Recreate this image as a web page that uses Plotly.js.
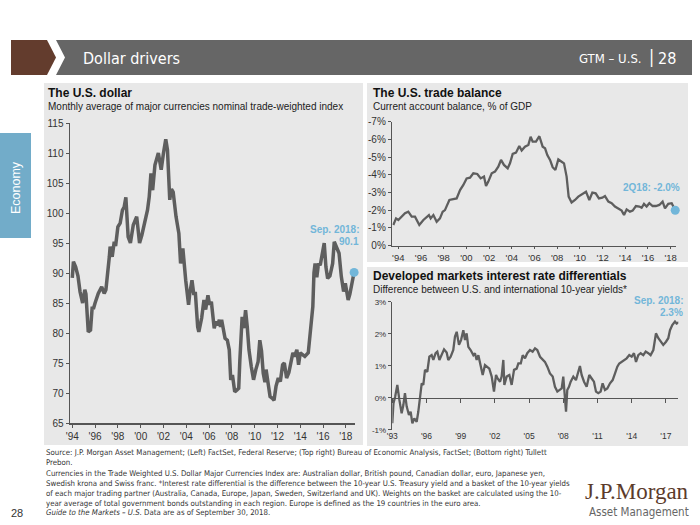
<!DOCTYPE html>
<html><head><meta charset="utf-8">
<script src="https://cdn.plot.ly/plotly-3.0.1.min.js"></script>
<style>html,body{margin:0;padding:0;background:#fff;}#chart{width:700px;height:525px;}</style>
</head><body><div id="chart"></div>
<script>
// ---------- DATA ----------
const dollarYears = [1994.0,1994.1,1994.3,1994.5,1994.68,1994.8,1994.91,1995.1,1995.2,1995.4,1995.6,1995.75,1995.85,1996.0,1996.28,1996.58,1996.8,1996.95,1997.16,1997.25,1997.32,1997.5,1997.68,1997.8,1998.0,1998.2,1998.4,1998.55,1998.7,1998.9,1999.1,1999.35,1999.65,1999.9,2000.1,2000.4,2000.6,2000.75,2000.9,2001.05,2001.25,2001.55,2001.8,2002.0,2002.2,2002.35,2002.55,2002.7,2002.85,2003.1,2003.35,2003.5,2003.7,2003.95,2004.2,2004.3,2004.5,2004.65,2004.8,2005.0,2005.1,2005.35,2005.55,2005.7,2005.9,2006.05,2006.2,2006.45,2006.6,2006.75,2006.9,2007.0,2007.1,2007.4,2007.6,2007.77,2007.9,2008.05,2008.25,2008.45,2008.6,2008.7,2008.9,2009.05,2009.2,2009.35,2009.5,2009.7,2009.9,2010.1,2010.3,2010.45,2010.6,2010.75,2010.9,2011.0,2011.15,2011.35,2011.55,2011.7,2011.87,2012.07,2012.25,2012.45,2012.6,2012.8,2013.0,2013.2,2013.35,2013.5,2013.7,2013.85,2014.0,2014.2,2014.4,2014.7,2014.9,2015.1,2015.2,2015.3,2015.45,2015.6,2015.75,2015.9,2016.1,2016.25,2016.4,2016.6,2016.84,2016.98,2017.15,2017.4,2017.6,2017.7,2017.8,2017.95,2018.05,2018.2,2018.35,2018.55,2018.72];
const dollarValues = [89.2,91.9,91.0,89.5,86.9,86.0,85.0,87.2,86.5,80.2,80.5,84.4,84.0,85.0,86.6,87.7,86.6,87.2,90.5,92.7,94.4,92.7,95.2,94.5,97.7,98.3,100.5,101.0,102.6,96.0,95.0,98.0,99.4,95.0,96.3,98.8,100.5,102.7,106.6,103.8,108.0,110.0,107.2,110.0,112.3,110.5,102.2,104.0,103.5,99.4,96.6,91.6,94.1,88.8,84.7,86.5,88.8,86.6,86.6,81.0,80.2,82.5,85.5,83.9,86.3,84.7,85.2,80.8,81.9,81.3,82.2,81.0,82.2,79.1,78.8,77.2,72.2,73.0,70.2,70.5,70.8,75.5,82.7,80.8,83.8,81.0,77.2,74.4,72.2,73.9,75.2,78.8,77.0,73.3,71.8,73.9,72.0,69.4,69.1,68.8,71.1,72.5,71.9,74.7,75.0,72.5,73.4,75.8,76.7,76.1,77.2,74.7,76.7,76.4,76.1,76.7,80.5,84.4,90.0,91.6,89.3,91.6,91.3,93.3,95.0,91.0,89.1,89.5,91.6,95.2,94.3,93.3,89.4,88.3,86.9,88.3,87.2,85.5,86.5,88.8,90.1];

const tradeYears = [1993.56,1993.80,1994.0,1994.30,1994.59,1994.88,1995.18,1995.47,1995.85,1996.21,1996.50,1996.70,1996.85,1997.09,1997.38,1997.67,1997.91,1998.11,1998.50,1998.85,1999.14,1999.44,1999.73,2000.02,2000.32,2000.61,2000.96,2001.26,2001.55,2001.73,2001.93,2002.23,2002.52,2002.81,2003.05,2003.31,2003.64,2003.84,2004.08,2004.37,2004.66,2004.87,2005.16,2005.46,2005.66,2005.84,2006.13,2006.43,2006.72,2006.93,2007.13,2007.37,2007.60,2007.84,2008.10,2008.39,2008.60,2008.83,2009.01,2009.27,2009.57,2009.86,2010.16,2010.54,2010.83,2011.10,2011.39,2011.68,2011.98,2012.21,2012.51,2012.80,2013.09,2013.39,2013.68,2013.89,2014.12,2014.41,2014.65,2014.94,2015.24,2015.44,2015.65,2015.88,2016.12,2016.41,2016.70,2017.00,2017.29,2017.50,2017.79,2018.09,2018.40];
const tradeValues = [-1.17,-1.54,-1.45,-1.64,-1.83,-1.92,-1.64,-1.64,-1.17,-1.45,-1.64,-1.73,-1.54,-1.73,-1.35,-1.54,-1.92,-2.01,-2.58,-2.61,-2.67,-3.14,-3.43,-3.80,-3.84,-4.09,-4.05,-3.80,-3.90,-3.37,-3.62,-4.09,-4.18,-4.46,-4.84,-4.56,-4.37,-4.65,-5.18,-5.25,-5.63,-5.37,-5.59,-5.69,-6.15,-5.87,-5.87,-6.18,-5.59,-5.50,-5.12,-4.84,-4.43,-4.27,-4.87,-4.74,-4.65,-3.90,-2.77,-2.44,-2.58,-2.77,-2.90,-3.05,-2.58,-3.00,-2.96,-2.67,-2.71,-2.80,-2.49,-2.40,-2.21,-2.11,-1.98,-1.73,-2.05,-1.92,-1.98,-2.24,-2.21,-2.14,-2.36,-2.21,-2.40,-2.24,-2.24,-2.30,-2.49,-2.11,-2.36,-2.40,-2.00];

const diffYears = [1993.0,1993.1,1993.25,1993.44,1993.62,1993.82,1993.97,1994.11,1994.26,1994.46,1994.61,1994.76,1994.93,1995.14,1995.28,1995.43,1995.58,1995.72,1995.87,1996.07,1996.25,1996.45,1996.60,1996.80,1996.95,1997.13,1997.33,1997.54,1997.77,1997.91,1998.12,1998.35,1998.50,1998.65,1998.85,1999.03,1999.23,1999.38,1999.52,1999.67,1999.87,2000.11,2000.25,2000.40,2000.55,2000.75,2000.93,2001.13,2001.34,2001.51,2001.72,2001.92,2002.10,2002.24,2002.45,2002.59,2002.74,2002.83,2003.03,2003.27,2003.47,2003.68,2003.91,2004.06,2004.27,2004.44,2004.64,2004.84,2005.08,2005.31,2005.52,2005.72,2005.96,2006.19,2006.39,2006.60,2006.83,2007.07,2007.27,2007.48,2007.65,2007.86,2008.00,2008.12,2008.24,2008.35,2008.50,2008.65,2008.88,2009.11,2009.32,2009.46,2009.61,2009.82,2010.05,2010.28,2010.49,2010.69,2010.87,2011.07,2011.28,2011.45,2011.66,2011.86,2012.10,2012.33,2012.54,2012.74,2012.91,2013.12,2013.32,2013.56,2013.79,2014.00,2014.20,2014.38,2014.58,2014.79,2015.02,2015.23,2015.46,2015.66,2015.90,2016.13,2016.34,2016.54,2016.77,2017.01,2017.21,2017.36,2017.56,2017.80,2017.94,2018.15];
const diffValues = [-0.80,-0.18,0.03,0.40,-0.07,-0.49,-0.23,0.14,-0.27,-0.54,-0.44,-0.80,-0.65,-0.75,-0.44,0.03,0.45,0.40,0.87,0.81,1.28,1.33,1.18,1.39,1.44,1.18,1.33,1.51,1.41,1.18,1.28,1.49,1.91,2.06,1.65,1.80,2.11,1.80,2.01,1.59,1.49,1.33,1.39,1.18,1.33,1.02,0.71,1.02,0.97,0.91,0.66,0.19,0.71,0.60,0.50,0.66,1.18,0.40,0.66,0.71,0.40,0.87,0.91,1.07,1.07,1.33,1.23,1.39,1.49,1.44,1.54,1.49,1.28,1.18,1.12,0.97,0.76,0.66,0.34,0.19,0.24,0.29,0.66,0.03,-0.44,0.24,0.34,0.50,0.66,0.55,0.81,0.99,0.71,0.50,0.34,0.71,0.60,0.50,0.19,0.14,0.19,0.45,0.24,0.29,0.45,0.55,0.76,0.97,1.07,1.12,1.18,1.23,1.33,1.28,1.39,1.12,1.33,1.39,1.33,1.44,1.39,1.33,1.49,2.01,1.86,1.75,1.65,1.75,1.86,2.11,2.27,2.38,2.32,2.36];

const dollarTickVals = [1994,1996,1998,2000,2002,2004,2006,2008,2010,2012,2014,2016,2018];
const dollarTickText = ["'94","'96","'98","'00","'02","'04","'06","'08","'10","'12","'14","'16","'18"];
const tradeTickVals = dollarTickVals;
const tradeTickText = dollarTickText;
const tradeYTickVals = [0,-1,-2,-3,-4,-5,-6,-7];
const tradeYTickText = ["0%","-1%","-2%","-3%","-4%","-5%","-6%","-7%"];
const diffTickVals = [1993,1996,1999,2002,2005,2008,2011,2014,2017];
const diffTickText = ["'93","'96","'99","'02","'05","'08","'11","'14","'17"];
const diffYTickVals = [-1,0,1,2,3];
const diffYTickText = ["-1%","0%","1%","2%","3%"];

// ---------- HELPERS ----------
const W = 700, H = 525;
const PX = p => p / W;
const PY = p => 1 - p / H;
const LINE = '#5e5e5e';
const AX = '#555555';
const BLUE = '#72b6d9';
const SANS = 'Liberation Sans, Arial, sans-serif';
const NARROW = 'Liberation Sans Narrow, Arial Narrow, DejaVu Sans Condensed, sans-serif';

const traces = [
  {x: dollarYears, y: dollarValues, xaxis:'x', yaxis:'y', mode:'lines', line:{color:LINE, width:3.5}},
  {x: [dollarYears[dollarYears.length-1]], y: [dollarValues[dollarValues.length-1]], xaxis:'x', yaxis:'y', mode:'markers', marker:{color:BLUE, size:9}, cliponaxis:false},
  {x: tradeYears, y: tradeValues, xaxis:'x2', yaxis:'y2', mode:'lines', line:{color:LINE, width:2.3}},
  {x: [tradeYears[tradeYears.length-1]], y: [tradeValues[tradeValues.length-1]], xaxis:'x2', yaxis:'y2', mode:'markers', marker:{color:BLUE, size:9}, cliponaxis:false},
  {x: diffYears, y: diffValues, xaxis:'x3', yaxis:'y3', mode:'lines', line:{color:LINE, width:2.3}},
  {x: [diffYears[diffYears.length-1]], y: [diffValues[diffValues.length-1]], xaxis:'x3', yaxis:'y3', mode:'markers', marker:{color:BLUE, size:9}, cliponaxis:false},
  {x: [], y: [], xaxis:'x4', yaxis:'y3', mode:'lines'}
];

const baseAxis = {showgrid:false, zeroline:false, showline:true, linecolor:AX, linewidth:1.5,
  ticks:'outside', ticklen:3, tickwidth:1, tickcolor:AX, tickfont:{family:SANS, size:10, color:'#333'}, fixedrange:true};

function ann(text, x, y, opts) {
  return Object.assign({text:text, x:PX(x), y:PY(y), xref:'paper', yref:'paper', showarrow:false, borderpad:0,
    xanchor:'left', yanchor:'middle', align:'left', font:{family:SANS, size:10, color:'#222'}}, opts || {});
}
function rect(x0,y0,x1,y1,color){
  return {type:'rect', xref:'paper', yref:'paper', x0:PX(x0), x1:PX(x1), y0:PY(y1), y1:PY(y0), fillcolor:color, line:{width:0}, layer:'below'};
}
function poly(pts,color){
  const d = pts.map((p,i)=>(i?'L':'M')+PX(p[0])+','+PY(p[1])).join(' ')+' Z';
  return {type:'path', xref:'paper', yref:'paper', path:d, fillcolor:color, line:{width:0}, layer:'below'};
}
const FOOT = {family:NARROW, size:7.8, color:'#333'};

const layout = {
  width:W, height:H, margin:{l:0,r:0,t:0,b:0}, paper_bgcolor:'#ffffff', plot_bgcolor:'rgba(0,0,0,0)',
  showlegend:false, hovermode:false, font:{family:SANS, color:'#222'},
  xaxis: Object.assign({}, baseAxis, {domain:[PX(70),PX(355)], range:[1993.8,2018.8], anchor:'y', tickmode:'array', tickvals:dollarTickVals, ticktext:dollarTickText}),
  yaxis: Object.assign({}, baseAxis, {domain:[PY(423),PY(123)], range:[65,115], anchor:'x', tickmode:'linear', tick0:65, dtick:5}),
  xaxis2: Object.assign({}, baseAxis, {domain:[PX(392.3),PX(676)], range:[1993.47,2018.47], anchor:'y2', tickmode:'array', tickvals:tradeTickVals, ticktext:tradeTickText, ticklen:2, tickfont:{family:SANS,size:9.5,color:'#333'}}),
  yaxis2: Object.assign({}, baseAxis, {domain:[PY(245.7),PY(121.7)], range:[0,-7], anchor:'x2', tickmode:'array', tickvals:tradeYTickVals, ticktext:tradeYTickText}),
  xaxis3: Object.assign({}, baseAxis, {domain:[PX(392.3),PX(678.3)], range:[1993,2018.09], anchor:'y3', showline:false, ticks:'', tickmode:'array', tickvals:diffTickVals, ticktext:diffTickText, tickfont:{family:SANS,size:8.5,color:'#333'}}),
  xaxis4: Object.assign({}, baseAxis, {overlaying:'x3', range:[1993,2018.09], anchor:'free', position:PY(397.7), side:'bottom', showticklabels:false, ticklen:4, linewidth:1.2, tickmode:'array', tickvals:diffTickVals}),
  yaxis3: Object.assign({}, baseAxis, {domain:[PY(429.7),PY(301.7)], range:[-1,3], anchor:'x3', tickmode:'array', tickvals:diffYTickVals, ticktext:diffYTickText, tickfont:{family:SANS,size:8,color:'#333'}}),
  shapes: [
    poly([[11,40],[47,40],[56,57.5],[47,75],[11,75]], '#633c2d'),
    poly([[56,40],[692,40],[692,75],[56,75],[65,57.5]], '#666666'),
    rect(0,133,31,238,'#72acc9'),
    rect(44,83,363,445,'#e8e8e8'),
    rect(367,83,688,262,'#e8e8e8'),
    rect(367,267,688,446,'#e8e8e8')
  ],
  annotations: [
    ann('Dollar drivers', 82, 58, {font:{family:NARROW, size:16, color:'#ffffff'}}),
    ann('28', 677, 58, {xanchor:'right', font:{family:NARROW, size:16, color:'#ffffff'}}),
    ann('|', 651, 57, {xanchor:'center', font:{family:NARROW, size:17, color:'#ffffff'}}),
    ann('GTM – U.S.', 643, 59, {xanchor:'right', font:{family:NARROW, size:13, color:'#ffffff'}}),
    ann('Economy', 16, 188, {xanchor:'center', textangle:-90, font:{family:SANS, size:12.5, color:'#ffffff'}}),

    ann('<b>The U.S. dollar</b>', 47, 93, {font:{family:SANS, size:12, color:'#111'}}),
    ann('Monthly average of major currencies nominal trade-weighted index', 47, 106, {font:{family:SANS, size:10, color:'#222'}}),
    ann('<b>The U.S. trade balance</b>', 372, 93, {font:{family:SANS, size:12, color:'#111'}}),
    ann('Current account balance, % of GDP', 372, 106, {font:{family:SANS, size:10, color:'#222'}}),
    ann('<b>Developed markets interest rate differentials</b>', 372, 276, {font:{family:SANS, size:12, color:'#111'}}),
    ann('Difference between U.S. and international 10-year yields*', 372, 289, {font:{family:SANS, size:10, color:'#222'}}),

    ann('<b>Sep. 2018:</b>', 360, 229, {xanchor:'right', font:{family:SANS, size:10, color:BLUE}}),
    ann('<b>90.1</b>', 360, 241, {xanchor:'right', font:{family:SANS, size:10, color:BLUE}}),
    ann('<b>2Q18: -2.0%</b>', 681, 187, {xanchor:'right', font:{family:SANS, size:10, color:BLUE}}),
    ann('<b>Sep. 2018:</b>', 684, 300, {xanchor:'right', font:{family:SANS, size:10, color:BLUE}}),
    ann('<b>2.3%</b>', 684, 312, {xanchor:'right', font:{family:SANS, size:10, color:BLUE}}),

    ann('Source: J.P. Morgan Asset Management; (Left) FactSet, Federal Reserve; (Top right) Bureau of Economic Analysis, FactSet; (Bottom right) Tullett', 45, 452, {font:FOOT}),
    ann('Prebon.', 45, 462, {font:FOOT}),
    ann('Currencies in the Trade Weighted U.S. Dollar Major Currencies Index are: Australian dollar, British pound, Canadian dollar, euro, Japanese yen,', 45, 473, {font:FOOT}),
    ann('Swedish krona and Swiss franc. *Interest rate differential is the difference between the 10-year U.S. Treasury yield and a basket of the 10-year yields', 45, 483, {font:FOOT}),
    ann('of each major trading partner (Australia, Canada, Europe, Japan, Sweden, Switzerland and UK). Weights on the basket are calculated using the 10-', 45, 493, {font:FOOT}),
    ann('year average of total government bonds outstanding in each region. Europe is defined as the 19 countries in the euro area.', 45, 503, {font:FOOT}),
    ann('<i>Guide to the Markets – U.S.</i> Data are as of September 30, 2018.', 45, 512, {font:FOOT}),
    ann('28', 10, 513, {font:{family:SANS, size:11, color:'#333'}}),

    ann('J.P.Morgan', 690, 491, {xanchor:'right', font:{family:'Liberation Serif, DejaVu Serif, serif', size:23, color:'#5c3b2b'}}),
    ann('Asset Management', 690, 512, {xanchor:'right', font:{family:NARROW, size:11.5, color:'#666666'}})
  ]
};

Plotly.newPlot('chart', traces, layout, {staticPlot:true, displayModeBar:false});
</script>
</body></html>
